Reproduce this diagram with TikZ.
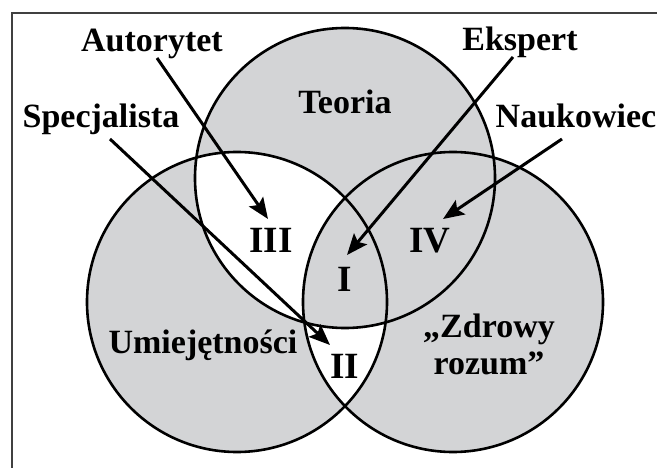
\documentclass[tikz,border=0pt]{standalone}
\usepackage{fontspec}
\setmainfont{Liberation Serif}
\usetikzlibrary{arrows.meta,calc}

\definecolor{venngray}{RGB}{211,212,214}
\tikzset{
  vlabel/.style={inner sep=0pt, anchor=base, font=\bfseries\fontsize{34}{37}\selectfont},
  numeral/.style={vlabel, font=\bfseries\fontsize{37}{40}\selectfont},
  ring/.style={line width=2.6pt},
  pointer/.style={line width=3pt, -{Stealth[length=21pt,width=17pt,inset=4pt]}}
}

\begin{document}
\begin{tikzpicture}[x=1pt,y=-1pt]
 \useasboundingbox (0,0) rectangle (657,468);

 % frame, cut at the right and the bottom
 \draw[line width=1.5pt, black!75] (12,468) -- (12,13) -- (657,13);

 \coordinate (T) at (345,178);
 \coordinate (L) at (237,302);
 \coordinate (R) at (453,302);

 % the three sets
 \fill[venngray] (T) circle (150pt) (L) circle (150pt) (R) circle (150pt);
 \begin{scope}
  \clip (T) circle (150pt);
  \fill[white] (L) circle (150pt);
 \end{scope}
 \begin{scope}
  \clip (L) circle (150pt);
  \fill[white] (R) circle (150pt);
 \end{scope}
 \begin{scope}
  \clip (T) circle (150pt);
  \clip (L) circle (150pt);
  \fill[venngray] (R) circle (150pt);
 \end{scope}
 \draw[ring] (T) circle (150pt) (L) circle (150pt) (R) circle (150pt);

 \node[vlabel] (teoria) at (345,114) {Teoria};
 \node[vlabel] (umiej) at (203,353) {Umiejętności};
 \node[vlabel, align=center] (zdrowy) at (489,374) {„Zdrowy\\rozum”};

 \node[numeral] (r1) at (345,292) {I};
 \node[numeral] (r2) at (345,378) {II};
 \node[numeral] (r3) at (271,253) {III};
 \node[numeral] (r4) at (430,253) {IV};

 \node[vlabel] (aut) at (152,52) {Autorytet};
 \node[vlabel] (eks) at (520,51) {Ekspert};
 \node[vlabel] (spe) at (101,128) {Specjalista};
 \node[vlabel] (nau) at (576,128) {Naukowiec};

 % pointers to the regions
 \draw[pointer] ([shift={(5,6)}]aut.base) -- ([shift={(-3,-34)}]r3.base);
 \draw[pointer] ([shift={(-7,6)}]eks.base) -- ([shift={(2,-37)}]r1.base);
 \draw[pointer] ([shift={(-14,11)}]nau.base) -- ([shift={(13,-34)}]r4.base);
 \draw[pointer] ([shift={(9,11)}]spe.base) -- ([shift={(-15,-33)}]r2.base);

\end{tikzpicture}
\end{document}
